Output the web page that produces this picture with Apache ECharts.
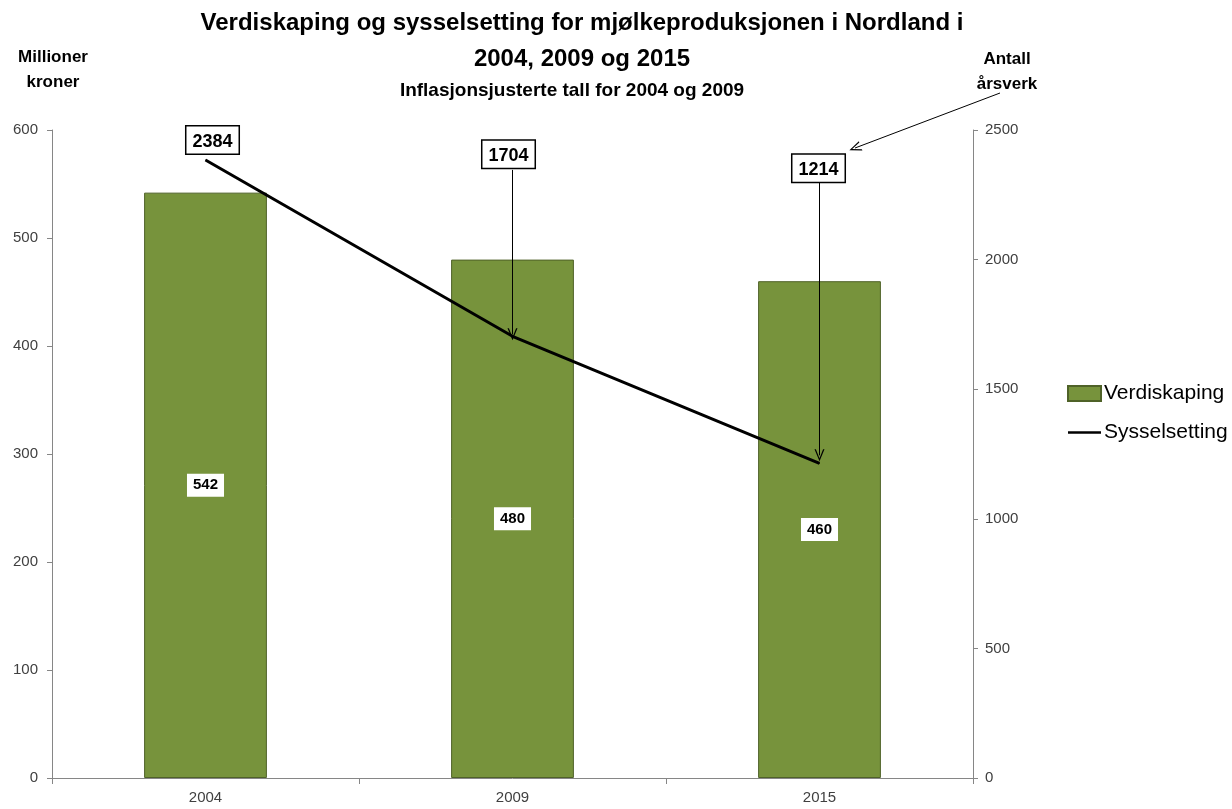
<!DOCTYPE html>
<html>
<head>
<meta charset="utf-8">
<script src="https://cdn.jsdelivr.net/npm/echarts@6/dist/echarts.min.js"></script>
<style>
html,body{margin:0;padding:0;background:#fff;}
#chart{width:1232px;height:809px;}
</style>
</head>
<body>
<div id="chart"></div>
<script>
var categories = ['2004', '2009', '2015'];
var verdiskaping = [542, 480, 460];
var sysselsetting = [2384, 1704, 1214];
var leftTicks = {min: 0, max: 600, interval: 100};
var rightTicks = {min: 0, max: 2500, interval: 500};
// annotation arrows: [category, start value, end value] on right axis
var arrows = [['2009', 2346, 1712], ['2015', 2296, 1245]];

var FONT = '"Liberation Sans", Arial, sans-serif';
var arrowHead = 'path://M0,12 L5,0 L10,12 L8.6,12 L5,3 L1.4,12 Z';

var labelDist = [6, 168, 281];
var labelOffX = [7, -4, -1];

var chart = echarts.init(document.getElementById('chart'), null, {renderer: 'canvas'});
chart.setOption({
  animation: false,
  backgroundColor: '#fff',
  title: [
    {text: 'Verdiskaping og sysselsetting for mjølkeproduksjonen i Nordland i\n2004, 2009 og 2015',
     left: 577, top: 0, textAlign: 'center',
     textStyle: {fontFamily: FONT, fontSize: 24, fontWeight: 'bold', color: '#000', lineHeight: 36}},
    {text: 'Inflasjonsjusterte tall for 2004 og 2009', left: 567, top: 76, textAlign: 'center',
     textStyle: {fontFamily: FONT, fontSize: 19, fontWeight: 'bold', color: '#000'}},
    {text: 'Millioner\nkroner', left: 48, top: 40, textAlign: 'center',
     textStyle: {fontFamily: FONT, fontSize: 17, fontWeight: 'bold', color: '#000', lineHeight: 25}},
    {text: 'Antall\nårsverk', left: 1002, top: 42, textAlign: 'center',
     textStyle: {fontFamily: FONT, fontSize: 17, fontWeight: 'bold', color: '#000', lineHeight: 25}}
  ],
  legend: {
    orient: 'vertical', left: 1062, top: 378, itemGap: 18,
    itemWidth: 33, itemHeight: 15,
    textStyle: {fontFamily: FONT, fontSize: 21, color: '#000', padding: [0,0,0,-2]},
    data: [
      {name: 'Verdiskaping', icon: 'rect'},
      {name: 'Sysselsetting', icon: 'path://M0,6 L40,6 L40,9 L0,9 Z', itemStyle: {color: '#000'}}
    ]
  },
  grid: {left: 52, right: 259, top: 130, bottom: 31},
  xAxis: {
    type: 'category', data: categories, boundaryGap: true,
    axisLine: {lineStyle: {color: '#868686', width: 1}},
    axisTick: {show: true, alignWithLabel: false, length: 6, lineStyle: {color: '#868686'}},
    axisLabel: {fontFamily: FONT, fontSize: 15, color: '#404040', margin: 12}
  },
  yAxis: [
    {type: 'value', min: leftTicks.min, max: leftTicks.max, interval: leftTicks.interval,
     axisLine: {show: true, lineStyle: {color: '#868686'}},
     axisTick: {show: true, length: 5, lineStyle: {color: '#868686'}},
     splitLine: {show: false},
     axisLabel: {fontFamily: FONT, fontSize: 15, color: '#404040', margin: 14,
                 formatter: function (v) { return String(v); }}},
    {type: 'value', min: rightTicks.min, max: rightTicks.max, interval: rightTicks.interval, position: 'right',
     axisLine: {show: true, lineStyle: {color: '#868686'}},
     axisTick: {show: true, length: 5, lineStyle: {color: '#868686'}},
     splitLine: {show: false},
     axisLabel: {fontFamily: FONT, fontSize: 15, color: '#404040', margin: 12,
                 formatter: function (v) { return String(v); }}}
  ],
  series: [
    {
      name: 'Verdiskaping', type: 'bar', yAxisIndex: 0, barWidth: '40%',
      data: verdiskaping,
      itemStyle: {color: '#77933C', borderColor: '#4F6228', borderWidth: 1},
      label: {show: true, position: 'inside', backgroundColor: '#fff', padding: [5, 6, 3, 6],
              fontFamily: FONT, fontSize: 15, fontWeight: 'bold', color: '#000'}
    },
    {
      name: 'Sysselsetting', type: 'line', yAxisIndex: 1,
      data: sysselsetting.map(function (v, i) {
        return {value: v, label: {distance: labelDist[i], offset: [labelOffX[i], 0]}};
      }),
      symbol: 'circle', symbolSize: 1, showSymbol: true,
      lineStyle: {color: '#000', width: 3},
      itemStyle: {color: '#000'},
      label: {show: true, position: 'top', backgroundColor: '#fff', borderColor: '#000', borderWidth: 1.5,
              padding: [6, 6, 3, 6], fontFamily: FONT, fontSize: 18, fontWeight: 'bold', color: '#000'},
      markLine: {
        silent: true, animation: false,
        symbol: ['none', arrowHead], symbolSize: [10, 12],
        label: {show: false},
        lineStyle: {color: '#000', width: 1, type: 'solid'},
        data: arrows.map(function (a) {
          return [{coord: [a[0], a[1]]}, {coord: [a[0], a[2]]}];
        }).concat([[{x: 1000, y: 93}, {x: 855, y: 148}]])
      }
    }
  ]
});
</script>
</body>
</html>
